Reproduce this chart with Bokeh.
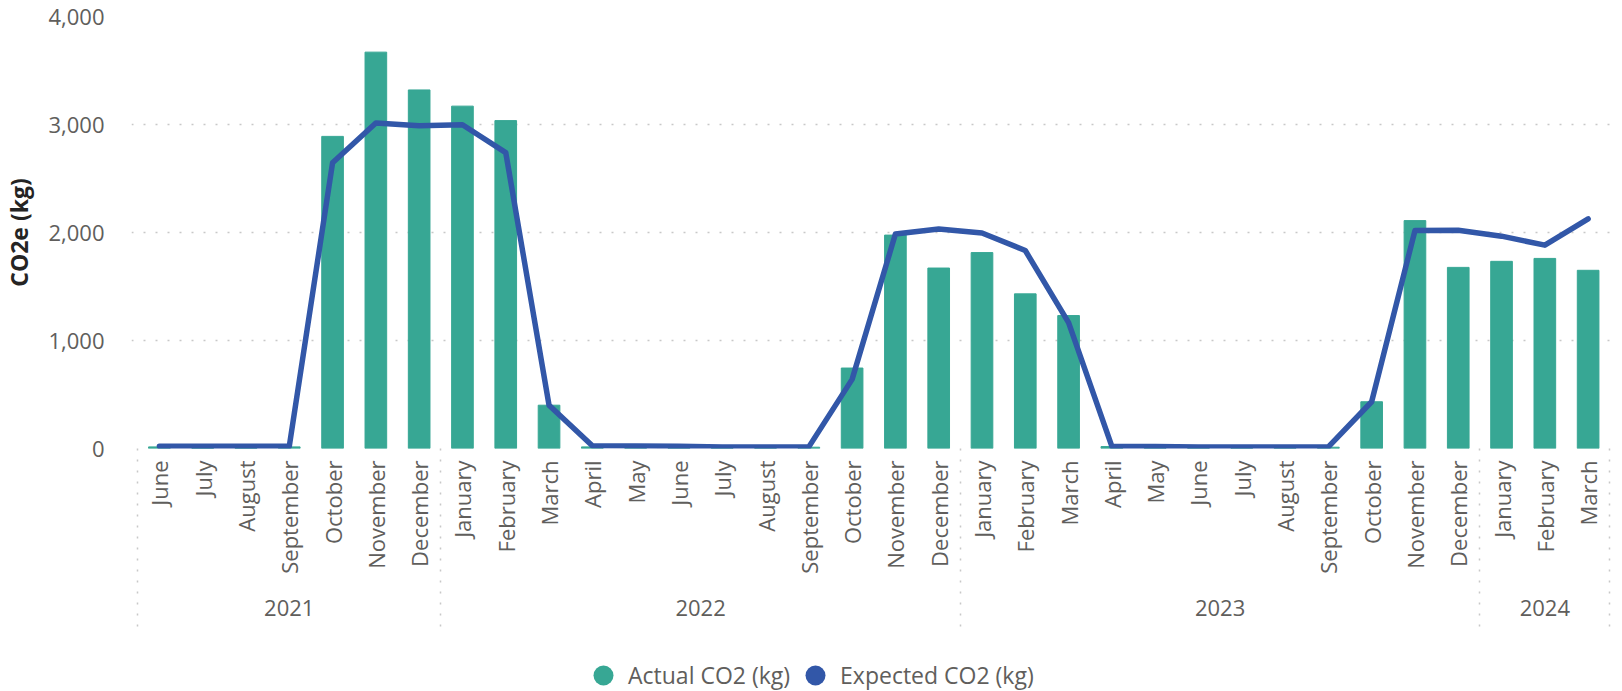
import math
import numpy as np
from bokeh.plotting import figure
from bokeh.layouts import column
from bokeh.models import (Range1d, FixedTicker, NumeralTickFormatter, LinearAxis,
                          Legend, LegendItem)
from bokeh.embed import file_html
from bokeh.resources import INLINE

# ---- data ----
months = ["June", "July", "August", "September", "October", "November", "December",
          "January", "February", "March", "April", "May", "June", "July", "August",
          "September", "October", "November", "December",
          "January", "February", "March", "April", "May", "June", "July", "August",
          "September", "October", "November", "December",
          "January", "February", "March"]
year_labels = ["2021", "2022", "2023", "2024"]
months_per_year = [7, 12, 12, 3]

actual_co2 = [15, 5, 5, 15, 2890, 3670, 3320,
              3170, 3036, 401, 15, 10, 8, 8, 8, 12, 745, 1976, 1671,
              1814, 1432, 1231, 18, 10, 8, 8, 8, 12, 433, 2110, 1677,
              1733, 1760, 1650]
expected_co2 = [20, 20, 20, 20, 2645, 3014, 2988,
                2998, 2740, 401, 25, 22, 20, 15, 15, 15, 640, 1986, 2033,
                1995, 1833, 1165, 20, 18, 15, 15, 15, 15, 433, 2018, 2021,
                1966, 1883, 2126]
y_ticks = [0, 1000, 2000, 3000, 4000]

# ---- styles ----
BAR = "#37A794"
LINE = "#3257A8"
GRID = "#C8C8C8"
TXT = "#605E5C"
FONT = "Open Sans"

xs = list(range(len(months)))
bounds = [-0.5]
for n in months_per_year:
    bounds.append(bounds[-1] + n)
year_centers = [(bounds[i] + bounds[i + 1]) / 2 for i in range(len(year_labels))]

W = 1622
FRAME_BOTTOM = 450
BOTTOM = 180
H1 = FRAME_BOTTOM + BOTTOM
H2 = 691 - H1
LEFT, RIGHT = 124, 9

p = figure(width=W, height=H1, output_backend="svg", toolbar_location=None,
           x_range=Range1d(-0.644, 33.586), y_range=Range1d(0, 4000),
           x_axis_location=None,
           min_border_top=16, min_border_left=LEFT, min_border_right=RIGHT,
           min_border_bottom=BOTTOM)
p.outline_line_color = None
p.background_fill_color = "white"
p.border_fill_color = "white"

# grid
p.ygrid.ticker = FixedTicker(ticks=y_ticks)
p.ygrid.grid_line_color = GRID
p.ygrid.grid_line_dash = "2 10"
p.ygrid.grid_line_width = 1.5
p.xgrid.visible = False

# y axis
ya = p.yaxis[0]
ya.ticker = FixedTicker(ticks=y_ticks)
ya.formatter = NumeralTickFormatter(format="0,0")
ya.axis_line_color = None
ya.major_tick_line_color = None
ya.minor_tick_line_color = None
ya.major_label_standoff = 21
ya.major_label_text_font = FONT
ya.major_label_text_font_size = "22px"
ya.major_label_text_color = TXT
ya.axis_label = "CO2e (kg)"
ya.axis_label_text_font = FONT
ya.axis_label_text_font_style = "bold"
ya.axis_label_text_font_size = "23px"
ya.axis_label_text_color = "#252423"
ya.axis_label_standoff = 10

# month axis
month_axis = LinearAxis(
    ticker=FixedTicker(ticks=xs),
    major_label_overrides={i: m for i, m in enumerate(months)},
    major_label_orientation=math.pi / 2,
    major_label_standoff=12,
    major_label_text_font=FONT,
    major_label_text_font_size="22px",
    major_label_text_color=TXT,
    axis_line_color=None,
    major_tick_line_color=None,
    minor_tick_line_color=None,
    major_tick_out=0, major_tick_in=0,
)
p.add_layout(month_axis, "below")

# year axis
year_axis = LinearAxis(
    ticker=FixedTicker(ticks=year_centers),
    major_label_overrides={c: y for c, y in zip(year_centers, year_labels)},
    major_label_standoff=23,
    major_label_text_font=FONT,
    major_label_text_font_size="22px",
    major_label_text_color=TXT,
    axis_line_color=None,
    major_tick_line_color=None,
    minor_tick_line_color=None,
    major_tick_out=0, major_tick_in=0,
)
p.add_layout(year_axis, "below")

# separator axis: dotted year boundaries drawn upward to the plot
sep_axis = LinearAxis(
    ticker=FixedTicker(ticks=[year_centers[0]], minor_ticks=bounds),
    major_label_overrides={year_centers[0]: " "},
    major_label_text_font_size="1px",
    major_label_standoff=0,
    axis_line_color=None,
    major_tick_line_color=None,
    major_tick_out=0, major_tick_in=0,
    minor_tick_line_color=GRID,
    minor_tick_line_dash="2 9",
    minor_tick_line_width=1.5,
    minor_tick_in=178, minor_tick_out=8,
)
p.add_layout(sep_axis, "below")

# data
p.vbar(x=xs, top=actual_co2, width=0.5, color=BAR)
p.line(x=xs, y=expected_co2, line_color=LINE, line_width=5.5,
       line_join="round", line_cap="round")

# ---- legend strip ----
p2 = figure(width=W, height=H2, output_backend="svg", toolbar_location=None,
            x_range=Range1d(0, 1), y_range=Range1d(0, 1),
            x_axis_location=None, y_axis_location=None,
            min_border_top=0, min_border_bottom=0,
            min_border_left=LEFT, min_border_right=RIGHT)
p2.outline_line_color = None
p2.grid.visible = False
p2.background_fill_color = "white"
p2.border_fill_color = "white"
nan_y = np.full(2, np.nan)
ra = p2.scatter(x=[0, 1], y=nan_y, marker="circle", fill_color=BAR, line_color=None)
re = p2.scatter(x=[0, 1], y=nan_y, marker="circle", fill_color=LINE, line_color=None)
legend = Legend(items=[LegendItem(label="Actual CO2 (kg)", renderers=[ra]),
                       LegendItem(label="Expected CO2 (kg)", renderers=[re])],
                orientation="horizontal", location=(447, -9),
                glyph_width=50, glyph_height=50, label_standoff=0, spacing=0,
                padding=0, margin=0, border_line_color=None,
                background_fill_alpha=0,
                label_text_font=FONT, label_text_font_size="23px",
                label_text_color=TXT)
p2.add_layout(legend, "center")

layout = column(p, p2, spacing=0)
open("out.html", "w").write(file_html(layout, INLINE))
